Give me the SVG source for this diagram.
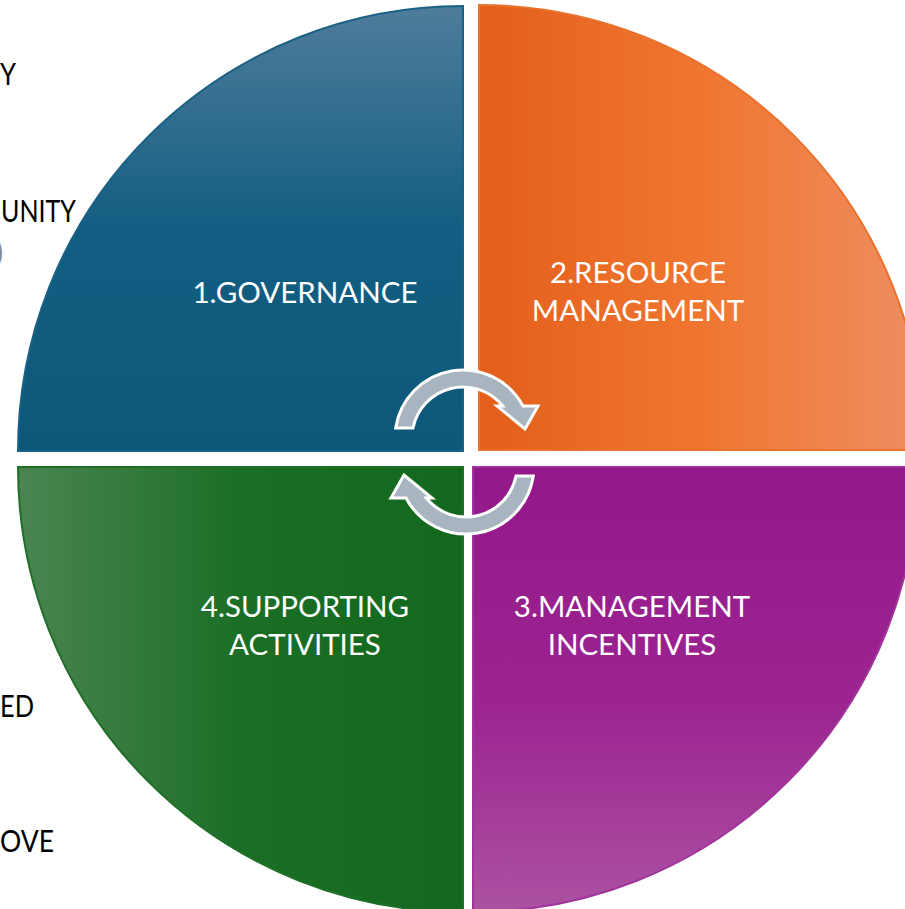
<svg xmlns="http://www.w3.org/2000/svg" width="905" height="909" viewBox="0 0 905 909">
<style>
.lbl{font-family:Lato,"Open Sans","Liberation Sans",sans-serif;font-size:29.5px;fill:#ffffff;text-anchor:middle}
.side{font-family:Lato,"Open Sans","Liberation Sans",sans-serif;font-size:31px;fill:#000000}
.q{stroke-width:2}
.arrow{fill:#a8b4bf;stroke:#ffffff;stroke-width:3;stroke-linejoin:miter}
</style>
<defs>
<linearGradient id="gTL" x1="0" y1="0" x2="0" y2="1">
<stop offset="0" stop-color="#4f7c9b"/>
<stop offset="0.5" stop-color="#125e82"/>
<stop offset="1" stop-color="#0d587a"/>
</linearGradient>
<linearGradient id="gTR" x1="0" y1="0" x2="1" y2="0">
<stop offset="0" stop-color="#e35f1b"/>
<stop offset="0.5" stop-color="#f07630"/>
<stop offset="1" stop-color="#ee8e62"/>
</linearGradient>
<linearGradient id="gBR" x1="0" y1="0" x2="0" y2="1">
<stop offset="0" stop-color="#93188a"/>
<stop offset="0.55" stop-color="#9c2591"/>
<stop offset="1" stop-color="#ac52a2"/>
</linearGradient>
<linearGradient id="gBL" x1="0" y1="0" x2="1" y2="0">
<stop offset="0" stop-color="#4b8552"/>
<stop offset="0.5" stop-color="#1b6e25"/>
<stop offset="1" stop-color="#12691e"/>
</linearGradient>
</defs>
<rect width="905" height="909" fill="#ffffff"/>

<g id="side-texts">
<text class="side" x="0" y="85" textLength="16" lengthAdjust="spacingAndGlyphs">Y</text>
<text class="side" x="1" y="222" textLength="75" lengthAdjust="spacingAndGlyphs">UNITY</text>
<text class="side" x="-5" y="263" style="fill:#8a8a8a">)</text>
<text class="side" x="0" y="717" textLength="34" lengthAdjust="spacingAndGlyphs">ED</text>
<text class="side" x="0" y="852" textLength="54" lengthAdjust="spacingAndGlyphs">OVE</text>
</g>

<g id="governance">
<path class="q" d="M 463 451 L 18 451 A 445 445 0 0 1 463 6 Z" fill="url(#gTL)" stroke="#1a6184"/>
<text class="lbl" x="305" y="303">1.GOVERNANCE</text>
</g>

<g id="resource-management">
<path class="q" d="M 479 450 L 479 5 A 445 445 0 0 1 924 450 Z" fill="url(#gTR)" stroke="#e8722e"/>
<text class="lbl" x="638" y="283">2.RESOURCE</text>
<text class="lbl" x="638" y="321">MANAGEMENT</text>
</g>

<g id="management-incentives">
<path class="q" d="M 473 467 L 918 467 A 445 445 0 0 1 473 912 Z" fill="url(#gBR)" stroke="#a1349a"/>
<text class="lbl" x="632" y="617">3.MANAGEMENT</text>
<text class="lbl" x="632" y="655">INCENTIVES</text>
</g>

<g id="supporting-activities">
<path class="q" d="M 463 467 L 463 912 A 445 445 0 0 1 18 467 Z" fill="url(#gBL)" stroke="#1f6f28"/>
<text class="lbl" x="305" y="617">4.SUPPORTING</text>
<text class="lbl" x="305" y="655">ACTIVITIES</text>
</g>

<g id="connectors">
<path id="arrow-top" class="arrow" d="M 395.7 428 A 68 68 0 0 1 523 406 L 538 406 L 525 429 L 497 406 L 502.7 406 A 51 51 0 0 0 413 428 Z"/>
<path id="arrow-bottom" class="arrow" transform="rotate(180 464.5 452)" d="M 395.7 428 A 68 68 0 0 1 523 406 L 538 406 L 525 429 L 497 406 L 502.7 406 A 51 51 0 0 0 413 428 Z"/>
</g>
</svg>
